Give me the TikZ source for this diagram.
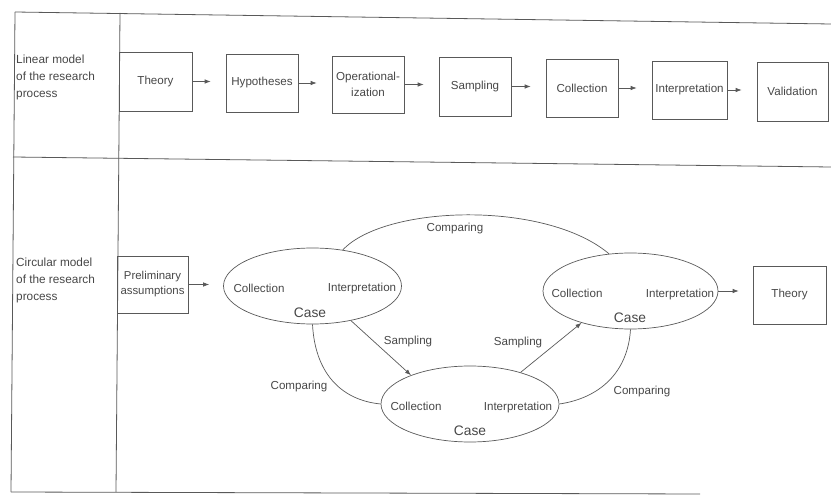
\documentclass[tikz,border=0pt]{standalone}
\usepackage{fontspec}
\setmainfont{Liberation Sans}
\usetikzlibrary{shapes.geometric,arrows.meta}
\definecolor{ink}{gray}{0.28}
\definecolor{rule}{gray}{0.35}
\begin{document}
\begin{tikzpicture}[x=1pt,y=-1pt,
  every node/.style={text=ink,font=\fontsize{11.6}{15}\selectfont},
  frame/.style={draw=rule,line width=0.8pt},
  stepbox/.style={draw=rule,line width=0.7pt,inner sep=0pt,minimum width=72pt,minimum height=58pt,align=center},
  casebox/.style={draw=rule,line width=0.7pt,ellipse,inner sep=0pt,minimum width=178pt,minimum height=76pt},
  arr/.style={draw=rule,line width=0.7pt,-{Latex[length=6pt,width=4.5pt]}},
  link/.style={draw=rule,line width=0.7pt},
  lbl/.style={inner sep=1pt},
  side/.style={align=left,anchor=north west,inner sep=0pt,font=\fontsize{11.8}{17}\selectfont},
  casetxt/.style={font=\fontsize{13.8}{15}\selectfont}]
\useasboundingbox (0,0) rectangle (831,497);
% frame
\coordinate (tl) at (15,12);
\coordinate (tr) at (831,24);
\coordinate (dt) at (120,13);
\coordinate (db) at (116,492);
\coordinate (bl) at (11,492);
\coordinate (br) at (700,494);
\coordinate (ml) at (13,157);
\coordinate (mr) at (831,167);
\draw[frame] (tl) -- (tr);
\draw[frame] (tl) -- (bl);
\draw[frame] (dt) -- (db);
\draw[frame] (ml) -- (mr);
\draw[frame] (bl) -- (br);
% side labels
\node[side] (lin) at (16,55) {Linear model\\of the research\\process};
\node[side] (circ) at (16,258) {Circular model\\of the research\\process};
% linear model
\node[stepbox,minimum width=73pt,minimum height=59pt] (t1) at (155.5,81.5) {Theory};
\node[stepbox] (h) at (262,83) {Hypotheses};
\node[stepbox,minimum height=57pt,font=\fontsize{11.6}{16}\selectfont] (o) at (368,84.5) {Operational-\\ization};
\node[stepbox,minimum height=59pt] (s) at (475,86.5) {Sampling};
\node[stepbox] (c) at (582,88) {Collection};
\node[stepbox,minimum width=75pt] (i) at (689.5,90) {Interpretation};
\node[stepbox,minimum width=71pt,minimum height=59pt] (v) at (792.5,91.5) {Validation};
\foreach \a/\b in {t1/h,h/o,o/s,s/c,c/i,i/v}{
  \draw[arr,shorten >=15pt] (\a.east) -- (\a.east -| \b.west);
}
% circular model
\node[stepbox,minimum width=71pt,minimum height=57pt,font=\fontsize{11.4}{15}\selectfont] (pa) at (152.5,284.5) {Preliminary\\assumptions};
\node[casebox] (e1) at (312.5,286) {};
\node[casebox] (e2) at (470,404) {};
\node[casebox,minimum width=175pt] (e3) at (630.5,291) {};
\node[lbl] (e1c) at (259,288) {Collection};
\node[lbl] (e1i) at (362,289) {Interpretation};
\node[lbl,casetxt] (e1k) at (310,313) {Case};
\node[lbl] (e2c) at (416,406) {Collection};
\node[lbl] (e2i) at (518,408) {Interpretation};
\node[lbl,casetxt] (e2k) at (470,431) {Case};
\node[lbl] (e3c) at (577,293) {Collection};
\node[lbl] (e3i) at (680,295) {Interpretation};
\node[lbl,casetxt] (e3k) at (630,318) {Case};
\node[stepbox,minimum width=73pt,minimum height=58pt] (t2) at (789.5,295) {Theory};
\draw[arr,shorten >=14pt] (pa.east) -- (pa.east -| e1.west);
\draw[arr,shorten >=14pt] (e3.east) -- (e3.east -| t2.west);
% connectors
\draw[link] (e1.50) .. controls (385,205) and (545,200) .. (e3.120);
\node[lbl] (cmp1) at (455,229) {Comparing};
\draw[arr] (e1.-42) -- (e2.154);
\node[lbl] (smp1) at (408,342) {Sampling};
\draw[arr] (e2.32) -- (e3.-147);
\node[lbl] (smp2) at (518,343) {Sampling};
\draw[link] (e1.-90) .. controls (315,372) and (340,400) .. (e2.west);
\node[lbl] (cmp2) at (299,387) {Comparing};
\draw[link] (e2.east) .. controls (600,398) and (628,372) .. (e3.-90);
\node[lbl] (cmp3) at (642,392) {Comparing};
\end{tikzpicture}
\end{document}
